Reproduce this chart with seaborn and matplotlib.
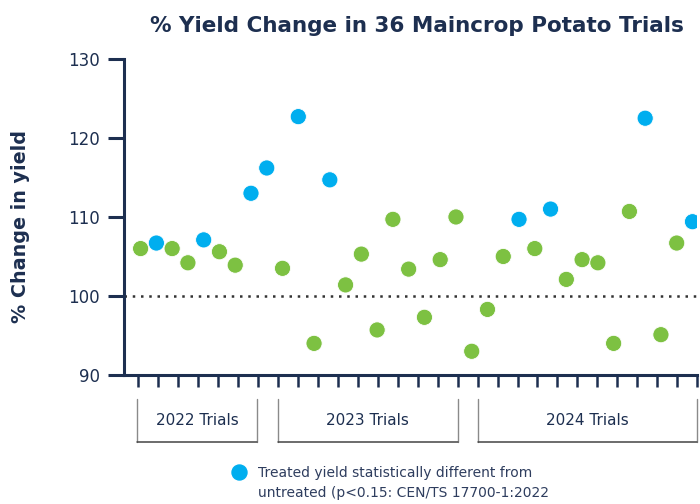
import matplotlib.pyplot as plt
from matplotlib.lines import Line2D
import numpy as np
import pandas as pd
import seaborn as sns

# trial results (left to right)
yield_change = [106.0, 106.7, 106.0, 104.2, 107.1, 105.6, 103.9, 113.0, 116.2,
                103.5, 122.7, 94.0, 114.7, 101.4, 105.3, 95.7, 109.7, 103.4,
                97.3, 104.6, 110.0, 93.0, 98.3, 105.0, 109.7, 106.0, 111.0,
                102.1, 104.6, 104.2, 94.0, 110.7, 122.5, 95.1, 106.7, 109.4]
significant = [0, 1, 0, 0, 1, 0, 0, 1, 1,
               0, 1, 0, 1, 0, 0, 0, 0, 0,
               0, 0, 0, 0, 0, 0, 1, 0, 1,
               0, 0, 0, 0, 0, 1, 0, 0, 1]
group_labels = ['2022 Trials', '2023 Trials', '2024 Trials']
y_ticks = [90, 100, 110, 120, 130]

NAVY = '#1d2f50'
GREEN = '#7dc142'
BLUE = '#00aeef'

# bracket extents under the axis (x in data units)
BRACKETS = [(-0.2, 7.4), (8.7, 20.1), (21.4, 35.3)]

df = pd.DataFrame({'trial': np.arange(len(yield_change)),
                   'change': yield_change,
                   'sig': ['yes' if s else 'no' for s in significant]})

sns.set_theme(style='white')
plt.rcParams['font.family'] = ['DejaVu Sans']

fig = plt.figure(figsize=(7, 5.04), dpi=100)
ax = fig.add_axes([0.177, 0.256, 0.819, 0.627])

ax.axhline(100, color='#333333', lw=1.8, ls=(0, (1, 2.3)), zorder=1)
sns.scatterplot(data=df, x='trial', y='change', hue='sig',
                palette={'no': GREEN, 'yes': BLUE}, s=135,
                edgecolor='white', linewidth=0.6, legend=False,
                zorder=3, ax=ax)

ax.set_xlim(-1.06, 35.3)
ax.set_ylim(90, 130)
ax.set_yticks(y_ticks)
ax.set_xticks(np.linspace(-0.15, 35.3, 29))
ax.set_xticklabels([])
ax.set_xlabel('')
ax.set_ylabel('% Change in yield', fontsize=13.8, fontweight='bold',
              color=NAVY)
ax.yaxis.set_label_coords(-0.163, 0.47)

for side in ['top', 'right']:
    ax.spines[side].set_visible(False)
for side in ['left', 'bottom']:
    ax.spines[side].set_color(NAVY)
    ax.spines[side].set_linewidth(2.2)
ax.tick_params(axis='y', direction='out', length=11.5, width=2.2,
               color=NAVY, labelsize=12, labelcolor=NAVY, pad=6, left=True)
ax.tick_params(axis='x', direction='out', length=8.5, width=1.8,
               color=NAVY, bottom=True)

ax.set_title('% Yield Change in 36 Maincrop Potato Trials', fontsize=15.5,
             fontweight='bold', color=NAVY, x=0.511, y=1.06)

# year brackets below the axis
trans = ax.get_xaxis_transform()
for label, (x0, x1) in zip(group_labels, BRACKETS):
    ax.plot([x0, x0], [-0.075, -0.212], color='#8a8a8a', lw=1,
            transform=trans, clip_on=False)
    ax.plot([x1, x1], [-0.075, -0.212], color='#8a8a8a', lw=1,
            transform=trans, clip_on=False)
    ax.plot([x0, x1], [-0.212, -0.212], color='#444444', lw=1.1,
            transform=trans, clip_on=False)
    ax.text((x0 + x1) / 2, -0.143, label, transform=trans, ha='center',
            va='center', fontsize=11, color=NAVY)

# legend for the blue points
fig.add_artist(Line2D([239 / 700], [1 - 471.5 / 504], marker='o', ls='',
                      markersize=10.8, color=BLUE, transform=fig.transFigure))
fig.text(258 / 700, 1 - 483 / 504,
         'Treated yield statistically different from\n'
         'untreated (p<0.15: CEN/TS 17700-1:2022',
         ha='left', va='center', fontsize=10, color='#2e3d5e',
         linespacing=1.5)

fig.savefig('out.png', dpi=100)
